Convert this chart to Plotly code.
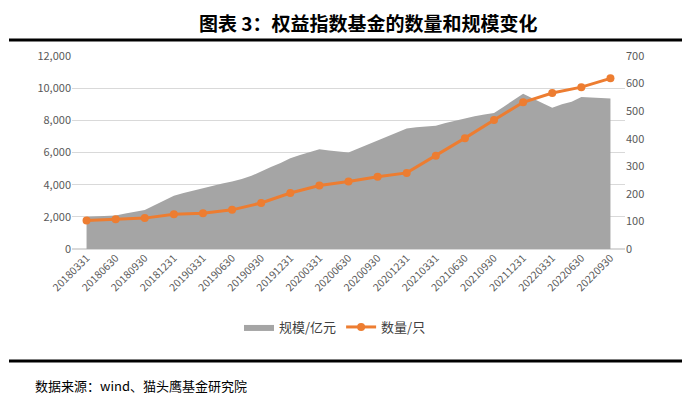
import plotly.graph_objects as go

# ---- data ----
quarters = ["20180331", "20180630", "20180930", "20181231", "20190331", "20190630",
            "20190930", "20191231", "20200331", "20200630", "20200930", "20201231",
            "20210331", "20210630", "20210930", "20211231", "20220331", "20220630",
            "20220930"]
fund_count = [103, 108, 112, 126, 130, 142, 167, 203, 230, 245, 262, 276,
              338, 402, 468, 532, 566, 587, 619]

# monthly fund size (亿元), from 2018-03 to 2022-09
size_months = [f"{y}-{m:02d}" for y in range(2018, 2023) for m in range(1, 13)]
size_months = [s for s in size_months if "2018-03" <= s <= "2022-09"]
fund_size = [2000, 2020, 2050, 2080, 2200, 2320, 2430, 2720, 3020, 3310,
             3480, 3640, 3780, 3950, 4080, 4200, 4350, 4550, 4850, 5100,
             5350, 5650, 5850, 6050, 6200, 6120, 6060, 6000, 6250, 6500,
             6750, 7000, 7250, 7500, 7570, 7620, 7670, 7830, 7980, 8120,
             8260, 8370, 8460, 8850, 9250, 9650, 9350, 9050, 8780, 9000,
             9150, 9450, 9420, 9390, 9360]

# position of monthly points on the quarterly category scale
def month_pos(s):
    y, m = int(s[:4]), int(s[5:])
    return ((y - 2018) * 12 + (m - 3)) / 3.0

size_x = [month_pos(s) for s in size_months]
cat_x = list(range(len(quarters)))

# ---- layout geometry (px, in screenshot coords; page body adds an 8px offset) ----
OFF = 8
W, H = 700, 407
L, R, T, B = 72 - OFF, 625 - OFF, 56 - OFF, 249 - OFF
def px(x):
    return (x - OFF - L) / (R - L)
def py(y):
    return 1 - (y - OFF - T) / (B - T)

fig = go.Figure()
fig.add_trace(go.Scatter(
    x=size_x, y=fund_size, name="规模/亿元", mode="lines",
    fill="tozeroy", fillcolor="#a5a5a5", line=dict(width=0, color="#a5a5a5"),
    yaxis="y"))
fig.add_trace(go.Scatter(
    x=cat_x, y=fund_count, name="数量/只", mode="lines+markers",
    line=dict(color="#ed7d31", width=3), marker=dict(color="#ed7d31", size=8),
    yaxis="y2"))

grey = "#595959"
fig.update_layout(
    width=W, height=H,
    margin=dict(l=L, r=W - R, t=T, b=H - B),
    paper_bgcolor="white", plot_bgcolor="white",
    font=dict(family="Noto Sans CJK SC, Noto Sans, sans-serif", color=grey),
    showlegend=True,
    legend=dict(orientation="h", x=px(335), xanchor="center", y=py(327), yanchor="middle",
                font=dict(size=13, color="#404040"), itemwidth=30,
                bgcolor="rgba(0,0,0,0)"),
    xaxis=dict(range=[-0.5, len(quarters) - 0.5], tickmode="array",
               tickvals=cat_x, ticktext=quarters, tickangle=-45,
               tickfont=dict(size=10.5, color=grey), showgrid=False,
               zeroline=False, showline=False, ticks="", automargin=False),
    yaxis=dict(range=[0, 12000], dtick=2000, tickformat=",d",
               tickfont=dict(size=11, color=grey), gridcolor="#d9d9d9",
               gridwidth=1, zeroline=True, zerolinecolor="#d9d9d9",
               showline=False, ticks="", automargin=False),
    yaxis2=dict(range=[0, 700], dtick=100, overlaying="y", side="right",
                tickfont=dict(size=11, color=grey), showgrid=False,
                zeroline=False, showline=False, ticks="", automargin=False),
    shapes=[
        dict(type="line", xref="paper", yref="paper", x0=px(9), x1=px(682),
             y0=py(40), y1=py(40), line=dict(color="black", width=3)),
        dict(type="line", xref="paper", yref="paper", x0=px(9), x1=px(682),
             y0=py(361), y1=py(361), line=dict(color="black", width=3)),
    ],
    annotations=[
        dict(text="<b>图表 3：权益指数基金的数量和规模变化</b>", xref="paper", yref="paper",
             x=px(368), y=py(22), xanchor="center", yanchor="middle", showarrow=False,
             font=dict(size=19, color="black", family="Noto Sans CJK SC")),
        dict(text="数据来源：wind、猫头鹰基金研究院", xref="paper", yref="paper",
             x=px(33), y=py(385), xanchor="left", yanchor="middle", showarrow=False,
             font=dict(size=13, color="black", family="Noto Sans CJK SC")),
    ],
)

fig.write_html("out.html")
